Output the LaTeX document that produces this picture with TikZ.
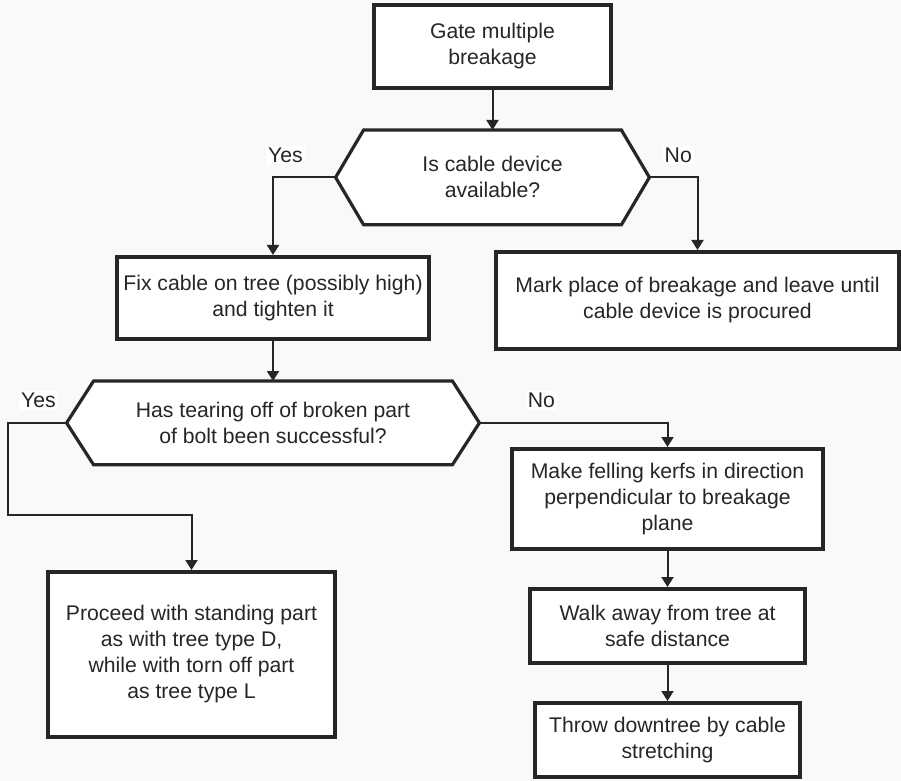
\documentclass[tikz,border=0pt]{standalone}
\usepackage{fontspec}
\setmainfont{Liberation Sans}
\usepackage{xcolor}
\usepackage{tikz}
\usetikzlibrary{arrows.meta,positioning,backgrounds}
\definecolor{paperbg}{HTML}{F9F9F9}
\definecolor{ink}{HTML}{262626}
\tikzset{
  chart diagram/.style={
    font=\fontsize{10.6}{13}\selectfont,
    >={Triangle[length=5pt,width=6pt]},
    x=0.5pt,
    y=-0.5pt
  },
  stepbox/.style={
    draw=ink,
    line width=2pt,
    fill=white,
    text=ink,
    align=center,
    inner sep=3pt
  },
  asknode/.style={
    text=ink,
    align=center,
    inner sep=0pt
  },
  askline/.style={
    draw=ink,
    line width=1.6pt,
    fill=white
  },
  flowarrow/.style={
    ->,
    draw=ink,
    line width=1pt
  },
  answer/.style={
    fill=white,
    text=ink,
    inner sep=1pt
  }
}
\newcommand{\askhex}[2]{%
  \draw[askline] (#1.west) -- ([xshift=#2]#1.north west) -- ([xshift=-#2]#1.north east)
    -- (#1.east) -- ([xshift=-#2]#1.south east) -- ([xshift=#2]#1.south west) -- cycle;}

\begin{document}
\begin{tikzpicture}[chart diagram]
\useasboundingbox (0,0) rectangle (901,781);
\begin{scope}[on background layer]
\fill[paperbg] (0,0) rectangle (901,781);
\end{scope}

\node[stepbox, minimum width=118.5pt, minimum height=41.5pt] (gate) at (492.5,46.5) {Gate multiple\\breakage};
\node[asknode, below=20pt of gate, minimum width=156.5pt, minimum height=47pt] (cable) {Is cable device\\available?};
\node[stepbox, minimum width=156pt, minimum height=41pt] (fix) at (273,298) {Fix cable on tree (possibly high)\\and tighten it};
\node[stepbox, minimum width=201.5pt, minimum height=48.5pt] (mark) at (697.5,300.5) {Mark place of breakage and leave until\\cable device is procured};
\node[asknode, below=20pt of fix, minimum width=206pt, minimum height=41.5pt] (torn) {Has tearing off of broken part\\of bolt been successful?};
\node[stepbox, minimum width=155.5pt, minimum height=50pt] (kerf) at (667.5,499) {Make felling kerfs in direction\\perpendicular to breakage\\plane};
\node[stepbox, below=18pt of kerf, minimum width=137.5pt, minimum height=37pt] (walk) {Walk away from tree at\\safe distance};
\node[stepbox, below=18pt of walk, minimum width=132.5pt, minimum height=37pt] (throw) {Throw downtree by cable\\stretching};
\node[stepbox, minimum width=143.5pt, minimum height=82.5pt] (stand) at (191.5,654.5) {Proceed with standing part\\as with tree type D,\\while with torn off part\\as tree type L};
\coordinate (yesturn) at (8,515);

\begin{scope}[on background layer]
\askhex{cable}{14pt}
\askhex{torn}{13.5pt}
\end{scope}

\draw[flowarrow] (gate) -- (cable);
\draw[flowarrow] (cable.west) -| node[answer, pos=0.4, above=6pt]{Yes} (fix.north);
\draw[flowarrow] (cable.east) -| node[answer, pos=0.3, above=6pt]{No} (mark.north);
\draw[flowarrow] (fix) -- (torn);
\draw[flowarrow] (torn.west) -| node[answer, pos=0.24, above=6pt]{Yes} (yesturn) -| (stand.north);
\draw[flowarrow] (torn.east) -| node[answer, pos=0.165, above=6pt]{No} (kerf.north);
\draw[flowarrow] (kerf) -- (walk);
\draw[flowarrow] (walk) -- (throw);
\end{tikzpicture}
\end{document}
